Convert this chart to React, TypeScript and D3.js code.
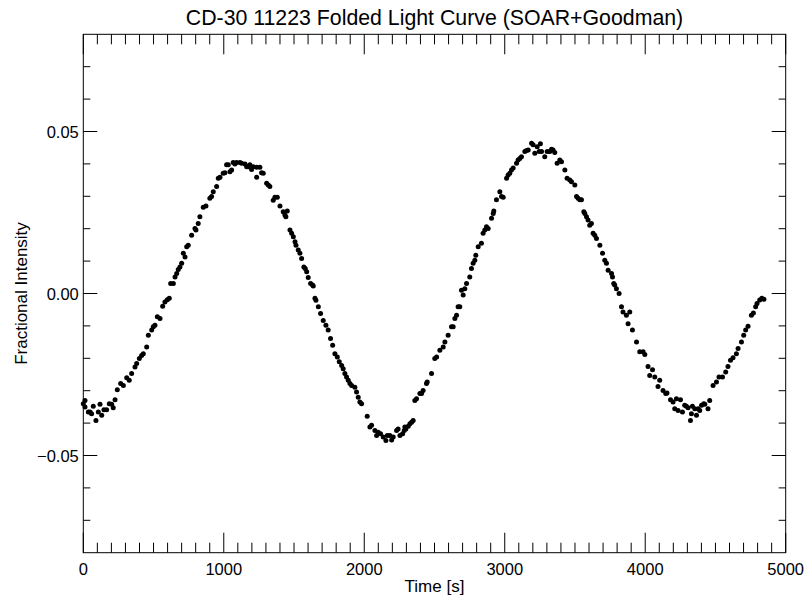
import React from "react";
import * as d3 from "d3";

const TITLE = "CD-30 11223 Folded Light Curve (SOAR+Goodman)";
const X_LABEL = "Time [s]";
const Y_LABEL = "Fractional Intensity";
const X_DOMAIN = [0, 5000];
const Y_DOMAIN = [-0.08, 0.08];
const X_MAJOR = [0, 1000, 2000, 3000, 4000, 5000];
const X_MINOR_STEP = 100;
const Y_MAJOR = [-0.05, 0, 0.05];
const Y_MINOR_STEP = 0.01;

const TIME = [
  0, 12, 12, 36, 48, 59, 71, 90, 107, 119, 131, 147, 166, 185, 202, 213, 226, 242, 266, 285,
  309, 327, 344, 368, 380, 399, 415, 427, 451, 463, 487, 498, 510, 527, 546, 565, 581, 598, 612, 622,
  641, 653, 665, 676, 688, 700, 712, 724, 736, 747, 771, 795, 802, 818, 830, 854, 873, 901, 913, 925,
  949, 961, 973, 996, 1008, 1020, 1032, 1044, 1056, 1067, 1079, 1091, 1115, 1127, 1151, 1163, 1174, 1186, 1198, 1210,
  1234, 1234, 1257, 1269, 1281, 1305, 1317, 1328, 1352, 1364, 1381, 1400, 1423, 1435, 1442, 1452, 1471, 1483, 1495, 1507,
  1514, 1530, 1542, 1554, 1570, 1580, 1590, 1601, 1618, 1632, 1637, 1649, 1656, 1673, 1689, 1708, 1727, 1743, 1760, 1775,
  1791, 1808, 1822, 1839, 1850, 1862, 1874, 1886, 1898, 1910, 1933, 1945, 1957, 1969, 1981, 2021, 2040, 2052, 2076, 2088,
  2099, 2116, 2135, 2154, 2164, 2182, 2195, 2206, 2230, 2241, 2254, 2273, 2285, 2289, 2296, 2313, 2325, 2337, 2348, 2360,
  2372, 2396, 2408, 2419, 2443, 2448, 2479, 2502, 2515, 2538, 2562, 2574, 2597, 2621, 2633, 2645, 2657, 2668, 2680, 2692,
  2704, 2716, 2728, 2751, 2763, 2775, 2787, 2794, 2811, 2834, 2846, 2858, 2870, 2882, 2906, 2918, 2922, 2941, 2965, 2977,
  2989, 3013, 3024, 3036, 3048, 3060, 3084, 3095, 3107, 3119, 3143, 3155, 3167, 3191, 3202, 3214, 3231, 3245, 3254, 3262,
  3285, 3302, 3321, 3333, 3344, 3356, 3373, 3392, 3404, 3428, 3444, 3463, 3475, 3499, 3511, 3522, 3534, 3546, 3563, 3570,
  3582, 3593, 3605, 3617, 3629, 3641, 3653, 3677, 3696, 3712, 3724, 3736, 3760, 3767, 3776, 3783, 3795, 3814, 3831, 3842,
  3866, 3878, 3890, 3909, 3938, 3961, 3985, 3997, 4020, 4032, 4052, 4068, 4091, 4103, 4127, 4146, 4155, 4180, 4198, 4210,
  4222, 4234, 4251, 4265, 4281, 4293, 4305, 4322, 4329, 4336, 4353, 4365, 4377, 4388, 4401, 4417, 4424, 4447, 4459, 4483,
  4507, 4525, 4550, 4573, 4589, 4607, 4625, 4649, 4661, 4685, 4701, 4715, 4732, 4756, 4770, 4786, 4796, 4815, 4830, 4845,
];

const FLUX = [
  -0.034, -0.033, -0.035, -0.0366, -0.0366, -0.0371, -0.0348, -0.0392, -0.0366, -0.0342, -0.0376, -0.0359, -0.0359, -0.034, -0.0342, -0.0353, -0.0328, -0.0297, -0.0278, -0.0284,
  -0.026, -0.0268, -0.0247, -0.0227, -0.0216, -0.0201, -0.0191, -0.0186, -0.0165, -0.0129, -0.0113, -0.0103, -0.0098, -0.0072, -0.0077, -0.0039, -0.0026, -0.0019, -0.0015, 0.0031,
  0.0031, 0.0051, 0.0062, 0.0074, 0.0082, 0.0093, 0.0124, 0.0113, 0.0144, 0.0149, 0.018, 0.0201, 0.0196, 0.0216, 0.0237, 0.0266, 0.027, 0.0294, 0.0299, 0.0314,
  0.033, 0.0356, 0.0359, 0.0371, 0.0373, 0.0397, 0.0397, 0.0376, 0.0381, 0.0404, 0.04, 0.0404, 0.0404, 0.0402, 0.04, 0.0391, 0.0391, 0.0397, 0.0383, 0.0391,
  0.0359, 0.039, 0.039, 0.0373, 0.0371, 0.034, 0.0335, 0.033, 0.0288, 0.0297, 0.0297, 0.027, 0.0252, 0.0242, 0.0237, 0.0255, 0.0196, 0.0186, 0.0175, 0.016,
  0.0149, 0.0134, 0.0124, 0.0108, 0.0082, 0.0077, 0.0067, 0.0049, 0.0031, 0.0026, 0.0023, -0.0015, -0.0021, -0.0041, -0.0062, -0.0083, -0.0098, -0.0113, -0.0139, -0.016,
  -0.0186, -0.0196, -0.0211, -0.0222, -0.0232, -0.0247, -0.0258, -0.0268, -0.0278, -0.0284, -0.0289, -0.0304, -0.032, -0.0335, -0.034, -0.0379, -0.0412, -0.0407, -0.0423, -0.0438,
  -0.0428, -0.0433, -0.0443, -0.0454, -0.0438, -0.0438, -0.0452, -0.0443, -0.0423, -0.0418, -0.0438, -0.0433, -0.0423, -0.0412, -0.0418, -0.041, -0.0402, -0.0397, -0.0392, -0.033,
  -0.0325, -0.0309, -0.0309, -0.0299, -0.0278, -0.0273, -0.0247, -0.0201, -0.0196, -0.0175, -0.0165, -0.015, -0.0129, -0.0103, -0.0103, -0.0077, -0.0067, -0.0041, -0.0041, 0.001,
  -0.0005, 0.0015, 0.0031, 0.0051, 0.0077, 0.0093, 0.0103, 0.0118, 0.0144, 0.0155, 0.0186, 0.0196, 0.0206, 0.0201, 0.0232, 0.0247, 0.0255, 0.0289, 0.0314, 0.0299,
  0.0297, 0.0356, 0.0366, 0.0371, 0.0381, 0.0387, 0.0402, 0.0412, 0.0417, 0.0422, 0.0438, 0.0441, 0.0443, 0.0464, 0.0459, 0.0433, 0.0453, 0.0438, 0.0462, 0.0438,
  0.0422, 0.0438, 0.0438, 0.0445, 0.0443, 0.0435, 0.0402, 0.0412, 0.0407, 0.0381, 0.0356, 0.035, 0.0345, 0.0335, 0.0299, 0.0294, 0.0289, 0.0289, 0.0252, 0.0247,
  0.0237, 0.0227, 0.0211, 0.0216, 0.0186, 0.018, 0.017, 0.0149, 0.0124, 0.0103, 0.0093, 0.0072, 0.0062, 0.0051, 0.0031, 0.0026, 0.0015, 0.0, -0.0041, -0.0057,
  -0.0067, -0.0093, -0.0057, -0.0113, -0.015, -0.018, -0.018, -0.0188, -0.0225, -0.0253, -0.0235, -0.0258, -0.0287, -0.0268, -0.0299, -0.0309, -0.0307, -0.0328, -0.0335, -0.0356,
  -0.0325, -0.0361, -0.0328, -0.0366, -0.0345, -0.0348, -0.0353, -0.0392, -0.0371, -0.0348, -0.0356, -0.0376, -0.0356, -0.0361, -0.0345, -0.034, -0.0342, -0.0356, -0.033, -0.0284,
  -0.0273, -0.0258, -0.0258, -0.0242, -0.0225, -0.0206, -0.0198, -0.0186, -0.017, -0.015, -0.0129, -0.0113, -0.0101, -0.0067, -0.006, -0.0041, -0.0031, -0.002, -0.0015, -0.0018,
];

const FONT = "'Liberation Sans', Arial, Helvetica, sans-serif";

export default function App() {
  const W = 807;
  const H = 600;
  const L = 83.3, R = 785.7, T = 34.3, B = 552.7;
  const x = d3.scaleLinear().domain(X_DOMAIN).range([L, R]);
  const y = d3.scaleLinear().domain(Y_DOMAIN).range([B, T]);

  const xMinor = d3.range(X_DOMAIN[0], X_DOMAIN[1] + 1, X_MINOR_STEP).filter((v) => v % 1000 !== 0);
  const yMinor = d3
    .range(-7, 8)
    .map((k) => k * Y_MINOR_STEP)
    .filter((v) => Math.abs(Math.round(v * 100)) % 5 !== 0);

  const XMAJ = 20, XMIN = 10, YMAJ = 14, YMIN = 7;
  const fmt = d3.format(".2f");
  const pts = TIME.map((t, i) => [t, FLUX[i]]);
  const TICK_FS = 16.5;
  const AXIS_FS = 17;

  return (
    <svg
      width={W}
      height={H}
      viewBox={`0 0 ${W} ${H}`}
      style={{ position: "absolute", left: 0, top: 0, background: "#fff" }}
      fontFamily={FONT}
    >
      <rect x={0} y={0} width={W} height={H} fill="#fff" />
      <text x={(L + R) / 2} y={25} textAnchor="middle" fontSize={21.3} fill="#000">
        {TITLE}
      </text>
      <g stroke="#000" strokeWidth={1} fill="none">
        <rect x={L} y={T} width={R - L} height={B - T} />
        {X_MAJOR.map((v) => (
          <g key={"xM" + v}>
            <line x1={x(v)} x2={x(v)} y1={B} y2={B - XMAJ} />
            <line x1={x(v)} x2={x(v)} y1={T} y2={T + XMAJ} />
          </g>
        ))}
        {xMinor.map((v) => (
          <g key={"xm" + v}>
            <line x1={x(v)} x2={x(v)} y1={B} y2={B - XMIN} />
            <line x1={x(v)} x2={x(v)} y1={T} y2={T + XMIN} />
          </g>
        ))}
        {Y_MAJOR.map((v) => (
          <g key={"yM" + v}>
            <line x1={L} x2={L + YMAJ} y1={y(v)} y2={y(v)} />
            <line x1={R} x2={R - YMAJ} y1={y(v)} y2={y(v)} />
          </g>
        ))}
        {yMinor.map((v) => (
          <g key={"ym" + v}>
            <line x1={L} x2={L + YMIN} y1={y(v)} y2={y(v)} />
            <line x1={R} x2={R - YMIN} y1={y(v)} y2={y(v)} />
          </g>
        ))}
      </g>
      {X_MAJOR.map((v) => (
        <text key={"xl" + v} x={x(v)} y={575} textAnchor="middle" fontSize={TICK_FS} fill="#000">
          {String(v)}
        </text>
      ))}
      {Y_MAJOR.map((v) => (
        <text key={"yl" + v} x={L - 4.5} y={y(v) + 6} textAnchor="end" fontSize={TICK_FS} fill="#000">
          {fmt(v)}
        </text>
      ))}
      <text x={(L + R) / 2} y={592} textAnchor="middle" fontSize={AXIS_FS} fill="#000">
        {X_LABEL}
      </text>
      <text
        transform={`translate(${26.5},${(T + B) / 2}) rotate(-90)`}
        textAnchor="middle"
        fontSize={AXIS_FS}
        fill="#000"
      >
        {Y_LABEL}
      </text>
      <g fill="#000">
        {pts.map(([t, f], i) => (
          <circle key={i} cx={x(t)} cy={y(f)} r={2.5} />
        ))}
      </g>
    </svg>
  );
}
